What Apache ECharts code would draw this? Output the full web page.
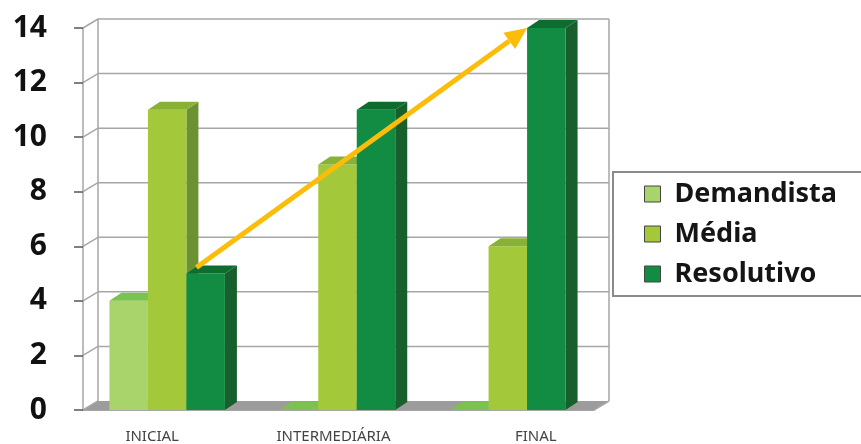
<!DOCTYPE html>
<html>
<head>
<meta charset="utf-8">
<script src="https://cdn.jsdelivr.net/npm/echarts@6/dist/echarts.min.js"></script>
<style>
html, body { margin: 0; padding: 0; background: #fff; }
#chart { width: 861px; height: 444px; }
</style>
</head>
<body>
<div id="chart"></div>
<script>
var categories = ['INICIAL', 'INTERMEDIÁRIA', 'FINAL'];
var seriesNames = ['Demandista', 'Média', 'Resolutivo'];
var demandista = [4, 0, 0];
var media = [11, 9, 6];
var resolutivo = [5, 11, 14];
var yTicks = [0, 2, 4, 6, 8, 10, 12, 14];
// seta: do topo do Resolutivo inicial ao topo do Resolutivo final
var arrowFrom = [0, 5];
var arrowTo = [2, 14];

// cores: frente, topo, lateral
var palette = [
	['#a9d46c', '#7cc24e', '#6aa03a'],
	['#a3c93a', '#87b236', '#6a9232'],
	['#128c42', '#0e6c2f', '#175f2c']
];
var labelPad = [[0, 32, 0, 0], [0, 10, 0, 0], [0, 0, 0, 54]];

var DX = 12, DY = -8;     // profundidade das barras
var WX = 15, WY = -9;     // profundidade da parede

var myChart = echarts.init(document.getElementById('chart'));

function barGeom(api, cat, idx) {
	var c = api.coord([cat, 0]);
	var band = api.size([1, 0])[0];
	var w = band * 0.226;
	var x0 = c[0] - 1.5 * w - 1 + idx * w;
	return { x0: x0, w: w, base: c[1] };
}

function makeBar(idx) {
	return function (params, api) {
		var cat = api.value(0);
		var g = barGeom(api, cat, idx);
		var ty = api.coord([cat, api.value(1)])[1];
		var x0 = g.x0, w = g.w, by = g.base;
		var col = palette[idx];
		return {
			type: 'group',
			children: [
				{ type: 'polygon', shape: { points: [[x0 + w, ty], [x0 + w + DX, ty + DY], [x0 + w + DX, by + DY], [x0 + w, by]] }, style: { fill: col[2] } },
				{ type: 'rect', shape: { x: x0, y: ty, width: w, height: by - ty }, style: { fill: col[0] } },
				{ type: 'polygon', shape: { points: [[x0, ty], [x0 + w, ty], [x0 + w + DX, ty + DY], [x0 + DX, ty + DY]] }, style: { fill: col[1] } }
			]
		};
	};
}

function renderFrame(params, api) {
	var band = api.size([1, 0])[0];
	var left = api.coord([0, 0])[0] - band / 2;
	var right = left + band * categories.length;
	var y0 = api.coord([0, 0])[1];
	var yTop = api.coord([0, yTicks[yTicks.length - 1]])[1];
	var line = { stroke: '#a6a6a6', lineWidth: 1.5 };
	var kids = [];
	kids.push({ type: 'polygon', shape: { points: [[left, y0], [right, y0], [right + WX, y0 + WY], [left + WX, y0 + WY]] }, style: { fill: '#9c9c9c' } });
	yTicks.forEach(function (v) {
		var y = api.coord([0, v])[1];
		if (v > 0) {
			kids.push({ type: 'line', shape: { x1: left + WX, y1: y + WY, x2: right + WX, y2: y + WY }, style: line });
		}
		kids.push({ type: 'line', shape: { x1: left, y1: y, x2: left + WX, y2: y + WY }, style: line });
	});
	kids.push({ type: 'line', shape: { x1: left + WX, y1: yTop + WY, x2: left + WX, y2: y0 + WY }, style: line });
	kids.push({ type: 'line', shape: { x1: right + WX, y1: yTop + WY, x2: right + WX, y2: y0 + WY }, style: line });
	kids.push({ type: 'line', shape: { x1: right, y1: y0, x2: right + WX, y2: y0 + WY }, style: line });
	return { type: 'group', children: kids };
}

function renderArrow(params, api) {
	var a = barGeom(api, arrowFrom[0], 2);
	var b = barGeom(api, arrowTo[0], 2);
	var x1 = a.x0 + 10, y1 = api.coord(arrowFrom)[1] - 6;
	var x2 = b.x0, y2 = api.coord(arrowTo)[1];
	var ang = Math.atan2(y2 - y1, x2 - x1);
	var hl = 22, hw = 10;
	var bx = x2 - hl * Math.cos(ang), byy = y2 - hl * Math.sin(ang);
	var px = -Math.sin(ang) * hw, py = Math.cos(ang) * hw;
	return {
		type: 'group',
		children: [
			{ type: 'line', shape: { x1: x1, y1: y1, x2: bx, y2: byy }, style: { stroke: '#fbbd0a', lineWidth: 5 } },
			{ type: 'polygon', shape: { points: [[x2, y2], [bx + px, byy + py], [bx - px, byy - py]] }, style: { fill: '#fbbd0a' } }
		]
	};
}

function toData(arr) {
	return arr.map(function (v, i) { return [i, v]; });
}

var values = [demandista, media, resolutivo];

var option = {
	animation: false,
	grid: { left: 83, right: 267, top: 28, bottom: 34 },
	legend: {
		orient: 'vertical',
		left: 613,
		top: 172,
		padding: [7, 120, 7, 31],
		borderColor: '#8a8a8a',
		borderWidth: 2,
		borderRadius: 0,
		itemWidth: 16,
		itemHeight: 16,
		itemGap: 10,
		icon: 'rect',
		itemStyle: { borderColor: '#444', borderWidth: 1 },
		data: seriesNames,
		textStyle: { fontSize: 27, fontWeight: 'bold', color: '#151515', fontFamily: 'Noto Sans', lineHeight: 30, padding: [0, 0, 0, 9] }
	},
	xAxis: {
		type: 'category',
		data: categories.map(function (c, i) { return { value: c, textStyle: { padding: labelPad[i] } }; }),
		boundaryGap: true,
		axisLine: { lineStyle: { color: '#8a8a8a', width: 1.5 } },
		axisTick: { length: 9, lineStyle: { color: '#666', width: 1.5 } },
		axisLabel: { fontSize: 15, color: '#444', fontFamily: 'Noto Sans', margin: 19 }
	},
	yAxis: {
		type: 'value',
		min: 0,
		max: 14,
		interval: 2,
		axisLine: { show: true, lineStyle: { color: '#a6a6a6', width: 1.5 } },
		axisTick: { show: true, length: 9, lineStyle: { color: '#555', width: 1.5 } },
		splitLine: { show: false },
		axisLabel: { fontSize: 30, fontWeight: 'bold', color: '#111', fontFamily: 'Noto Sans', margin: 36 }
	},
	series: [{
		type: 'custom',
		name: 'frame',
		renderItem: renderFrame,
		data: [[0, 0]],
		clip: false,
		silent: true,
		z: 1
	}].concat(seriesNames.map(function (n, i) {
		return {
			type: 'custom',
			name: n,
			renderItem: makeBar(i),
			data: toData(values[i]),
			itemStyle: { color: palette[i][0] },
			clip: false,
			z: 2 + i
		};
	})).concat([{
		type: 'custom',
		name: 'seta',
		renderItem: renderArrow,
		data: [[0, 0]],
		clip: false,
		silent: true,
		z: 10
	}])
};

myChart.setOption(option);
</script>
</body>
</html>
